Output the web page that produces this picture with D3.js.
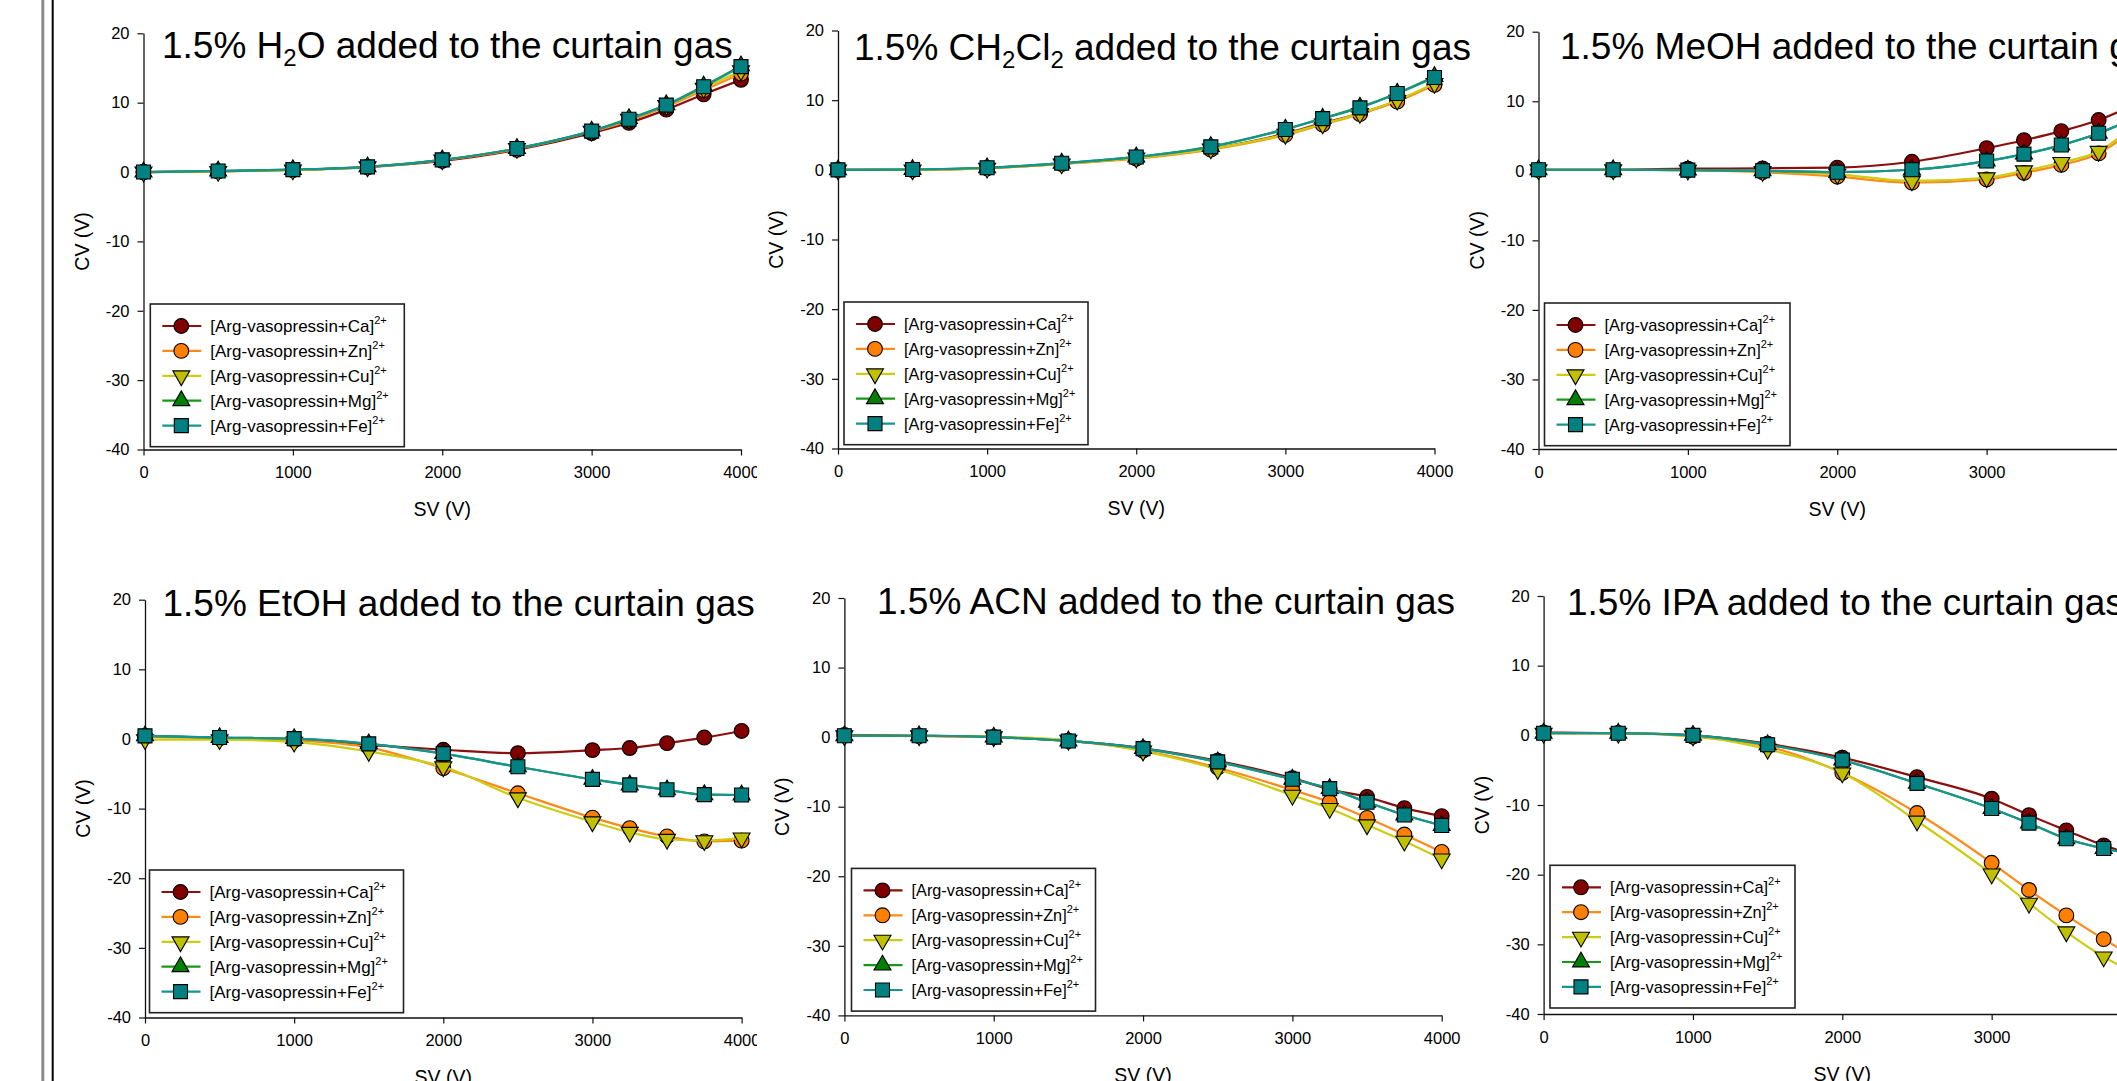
<!DOCTYPE html>
<html>
<head>
<meta charset="utf-8">
<script src="https://cdn.jsdelivr.net/npm/d3@7"></script>
<style>
  html, body { margin: 0; padding: 0; background: #fff; overflow: hidden; }
  svg { display: block; font-family: "Liberation Sans", Arial, sans-serif; }
</style>
</head>
<body>
<svg id="chart" width="2117" height="1081"></svg>
<script>
// ---------------- DATA ----------------
const sv = [0, 500, 1000, 1500, 2000, 2500, 3000, 3250, 3500, 3750, 4000];
const seriesNames = ["Ca", "Zn", "Cu", "Mg", "Fe"];
const xTicks = [0, 1000, 2000, 3000, 4000];
const yTicks = [-40, -30, -20, -10, 0, 10, 20];
const titles = [
  "1.5% H{2}O added to the curtain gas",
  "1.5% CH{2}Cl{2} added to the curtain gas",
  "1.5% MeOH added to the curtain gas",
  "1.5% EtOH added to the curtain gas",
  "1.5% ACN added to the curtain gas",
  "1.5% IPA added to the curtain gas"
];
// each panel: rows = Ca, Zn, Cu, Mg, Fe ; CV (V) at each SV
const cvH2O = [
  [0, 0.1, 0.3, 0.7, 1.6, 3.2, 5.6, 7.1, 9.0, 11.2, 13.3],
  [0, 0.1, 0.3, 0.7, 1.7, 3.3, 5.8, 7.4, 9.4, 11.8, 14.2],
  [0, 0.1, 0.3, 0.75, 1.75, 3.4, 5.9, 7.6, 9.6, 12.1, 14.6],
  [0, 0.15, 0.35, 0.75, 1.75, 3.4, 5.9, 7.7, 9.7, 12.4, 15.3],
  [0, 0.15, 0.35, 0.75, 1.75, 3.4, 5.9, 7.6, 9.65, 12.3, 15.2]
];
const cvCH2Cl2 = [
  [0, 0, 0.25, 0.85, 1.7, 3.0, 5.2, 6.7, 8.1, 9.9, 12.3],
  [0, 0, 0.25, 0.85, 1.6, 2.9, 5.0, 6.5, 8.0, 9.8, 12.2],
  [0, 0, 0.25, 0.85, 1.7, 3.0, 5.1, 6.6, 8.1, 10.0, 12.4],
  [0, 0.05, 0.3, 0.95, 1.85, 3.35, 5.85, 7.4, 9.0, 11.0, 13.4],
  [0, 0.05, 0.3, 0.95, 1.85, 3.3, 5.8, 7.35, 8.9, 10.95, 13.25]
];
const cvMeOH = [
  [0.15, 0.15, 0.3, 0.35, 0.45, 1.3, 3.25, 4.4, 5.7, 7.3, 9.6],
  [0.15, 0.15, 0.1, -0.2, -0.85, -1.7, -1.25, -0.3, 0.85, 2.5, 6.2],
  [0.15, 0.15, 0.1, -0.1, -0.5, -1.45, -1.0, 0, 1.2, 2.8, 6.8],
  [0.15, 0.15, 0.1, 0, -0.2, 0.15, 1.4, 2.4, 3.7, 5.4, 7.7],
  [0.15, 0.15, 0.1, 0, -0.2, 0.15, 1.4, 2.4, 3.7, 5.4, 7.7]
];
const cvEtOH = [
  [0.45, 0.15, 0, -0.85, -1.55, -2.05, -1.6, -1.3, -0.6, 0.2, 1.15],
  [0.3, 0.1, -0.2, -1.2, -4.2, -7.8, -11.3, -12.8, -14.0, -14.7, -14.6],
  [-0.1, -0.1, -0.45, -1.8, -4.0, -8.45, -11.9, -13.4, -14.4, -14.6, -14.2],
  [0.45, 0.2, 0.05, -0.7, -2.1, -4.0, -5.8, -6.6, -7.3, -8.0, -8.05],
  [0.45, 0.2, 0.05, -0.7, -2.1, -4.0, -5.8, -6.6, -7.3, -8.0, -8.05]
];
const cvACN = [
  [0.3, 0.2, 0, -0.55, -1.6, -3.4, -5.9, -7.5, -8.6, -10.2, -11.35],
  [0.2, 0.15, 0, -0.5, -1.95, -4.4, -7.6, -9.35, -11.6, -14.0, -16.5],
  [0.2, 0.2, 0.05, -0.45, -2.0, -4.65, -8.35, -10.25, -12.6, -14.95, -17.5],
  [0.2, 0.2, 0, -0.55, -1.65, -3.55, -6.05, -7.4, -9.35, -11.2, -12.7],
  [0.2, 0.2, 0, -0.55, -1.65, -3.55, -6.05, -7.4, -9.35, -11.2, -12.7]
];
const cvIPA = [
  [0.4, 0.3, 0, -1.2, -3.2, -6.0, -9.1, -11.45, -13.65, -15.8, -17.4],
  [0.3, 0.3, -0.2, -1.6, -5.4, -11.15, -18.3, -22.2, -25.85, -29.25, -32.4],
  [0.3, 0.3, -0.1, -2.0, -5.4, -12.3, -19.9, -24.1, -28.2, -31.8, -34.5],
  [0.3, 0.3, 0, -1.35, -3.55, -6.9, -10.5, -12.6, -14.85, -16.25, -17.2],
  [0.3, 0.3, 0, -1.35, -3.55, -6.9, -10.5, -12.6, -14.85, -16.25, -17.2]
];
const panelData = [cvH2O, cvCH2Cl2, cvMeOH, cvEtOH, cvACN, cvIPA];

// ---------------- STYLE / LAYOUT ----------------
const fillColors = ["#800000", "#ff8000", "#c0c000", "#008000", "#008080"];
const lineColors = ["#8a0f0f", "#ff8a1a", "#cccc10", "#189818", "#169494"];
const markerKinds = ["circle", "circle", "down", "up", "square"];

const layout = [
  {x0: 143.5, x1: 741,   yT: 33.3,  yB: 449.5, clip: 757, tx: 162,  ty: 58,  lx: 150.3, ly: 304,   lw: 254, lf: 17},
  {x0: 838,   x1: 1434.5,yT: 30.5,  yB: 448.5, clip: null, tx: 854, ty: 59.5,lx: 844,   ly: 302,   lw: 244, lf: 16.3},
  {x0: 1538.5,x1: 2136,  yT: 31.7,  yB: 449,   clip: null, tx: 1560,ty: 59,  lx: 1544.5,ly: 303,   lw: 245.5, lf: 16.4},
  {x0: 145,   x1: 741.6, yT: 599.7, yB: 1017.5,clip: 757, tx: 162.5,ty: 616, lx: 149.5, ly: 870,   lw: 254, lf: 17},
  {x0: 844.4, x1: 1441.7,yT: 598,   yB: 1015.4,clip: null, tx: 877, ty: 614, lx: 851.5, ly: 868.4, lw: 244, lf: 16.3},
  {x0: 1543.6,x1: 2141,  yT: 596,   yB: 1014,  clip: null, tx: 1567,ty: 615, lx: 1550,  ly: 865.3, lw: 245, lf: 16.4}
];

const svg = d3.select("#chart");
svg.append("rect").attr("width", 2117).attr("height", 1081).attr("fill", "#fff");

// left border lines
svg.append("rect").attr("x", 41.3).attr("y", 0).attr("width", 3).attr("height", 1081).attr("fill", "#8c8c8c");
svg.append("rect").attr("x", 51.7).attr("y", 0).attr("width", 2).attr("height", 1081).attr("fill", "#000");

const defs = svg.append("defs");

function markerPath(kind) {
  if (kind === "circle") return d3.symbol().type(d3.symbolCircle).size(Math.PI * 7.4 * 7.4)();
  if (kind === "square") return d3.symbol().type(d3.symbolSquare).size(14 * 14)();
  return d3.symbol().type(d3.symbolTriangle).size(Math.sqrt(3) / 4 * 17 * 17)();
}

function addTitle(g, str, x, y) {
  const t = g.append("text").attr("x", x).attr("y", y)
    .attr("font-size", 37).attr("fill", "#000");
  const parts = str.split(/(\{[^}]*\})/).filter(s => s.length);
  let lowered = false;
  parts.forEach(p => {
    if (p.startsWith("{")) {
      t.append("tspan").attr("font-size", 24).attr("dy", lowered ? 0 : 8).text(p.slice(1, -1));
      lowered = true;
    } else {
      const ts = t.append("tspan").text(p);
      if (lowered) { ts.attr("dy", -8); lowered = false; }
    }
  });
}

const fmt = d => String(d);

panelData.forEach((data, pi) => {
  const L = layout[pi];
  let g = svg.append("g");
  if (L.clip) {
    defs.append("clipPath").attr("id", "clip" + pi)
      .append("rect").attr("x", 0).attr("y", 0).attr("width", L.clip).attr("height", 1081);
    g.attr("clip-path", `url(#clip${pi})`);
  }
  const x = d3.scaleLinear().domain([0, 4000]).range([L.x0, L.x1]);
  const y = d3.scaleLinear().domain([-40, 20]).range([L.yB, L.yT]);

  // axes
  const ya = g.append("g").attr("transform", `translate(${L.x0},0)`)
    .call(d3.axisLeft(y).tickValues(yTicks).tickSize(6).tickPadding(8).tickSizeOuter(0).tickFormat(fmt));
  const xa = g.append("g").attr("transform", `translate(0,${L.yB})`)
    .call(d3.axisBottom(x).tickValues(xTicks).tickSize(6).tickPadding(11).tickSizeOuter(0).tickFormat(fmt));
  [ya, xa].forEach(a => {
    a.select(".domain").attr("stroke", "#111").attr("stroke-width", 1.3);
    a.selectAll(".tick line").attr("stroke", "#111").attr("stroke-width", 1.2);
    a.selectAll(".tick text").attr("font-size", 16.5).attr("fill", "#000")
      .attr("font-family", "'Liberation Sans', Arial, sans-serif");
  });

  // axis titles
  g.append("text").attr("transform", `translate(${L.x0 - 55},${(L.yT + L.yB) / 2}) rotate(-90)`)
    .attr("text-anchor", "middle").attr("font-size", 19.5).text("CV (V)");
  g.append("text").attr("x", (L.x0 + L.x1) / 2).attr("y", L.yB + 66.5)
    .attr("text-anchor", "middle").attr("font-size", 19.5).text("SV (V)");

  // series
  const line = d3.line().curve(d3.curveMonotoneX).x(d => x(d[0])).y(d => y(d[1]));
  data.forEach((vals, si) => {
    const pts = sv.map((s, i) => [s, vals[i]]);
    g.append("path").attr("d", line(pts)).attr("fill", "none")
      .attr("stroke", lineColors[si]).attr("stroke-width", 2.2);
    const kind = markerKinds[si];
    g.selectAll(null).data(pts).enter().append("path")
      .attr("d", markerPath(kind))
      .attr("transform", d => `translate(${x(d[0])},${y(d[1])})${kind === "down" ? " rotate(180)" : ""}`)
      .attr("fill", fillColors[si]).attr("stroke", "#000").attr("stroke-width", 1.1);
  });

  // title
  addTitle(g, titles[pi], L.tx, L.ty);

  // legend
  const lg = g.append("g").attr("transform", `translate(${L.lx},${L.ly})`);
  lg.append("rect").attr("x", 0).attr("y", 0).attr("width", L.lw).attr("height", 142.7)
    .attr("fill", "#fff").attr("stroke", "#222").attr("stroke-width", 1.6);
  seriesNames.forEach((name, si) => {
    const ry = 22 + si * 24.9;
    lg.append("line").attr("x1", 12).attr("x2", 51).attr("y1", ry).attr("y2", ry)
      .attr("stroke", lineColors[si]).attr("stroke-width", 2.2);
    const kind = markerKinds[si];
    lg.append("path").attr("d", markerPath(kind))
      .attr("transform", `translate(31,${ry})${kind === "down" ? " rotate(180)" : ""}`)
      .attr("fill", fillColors[si]).attr("stroke", "#000").attr("stroke-width", 1.1);
    const t = lg.append("text").attr("x", 60).attr("y", ry + 6).attr("font-size", L.lf);
    t.append("tspan").text(`[Arg-vasopressin+${name}]`);
    t.append("tspan").attr("font-size", 11).attr("dy", -8).text("2+");
  });
});
</script>
</body>
</html>
